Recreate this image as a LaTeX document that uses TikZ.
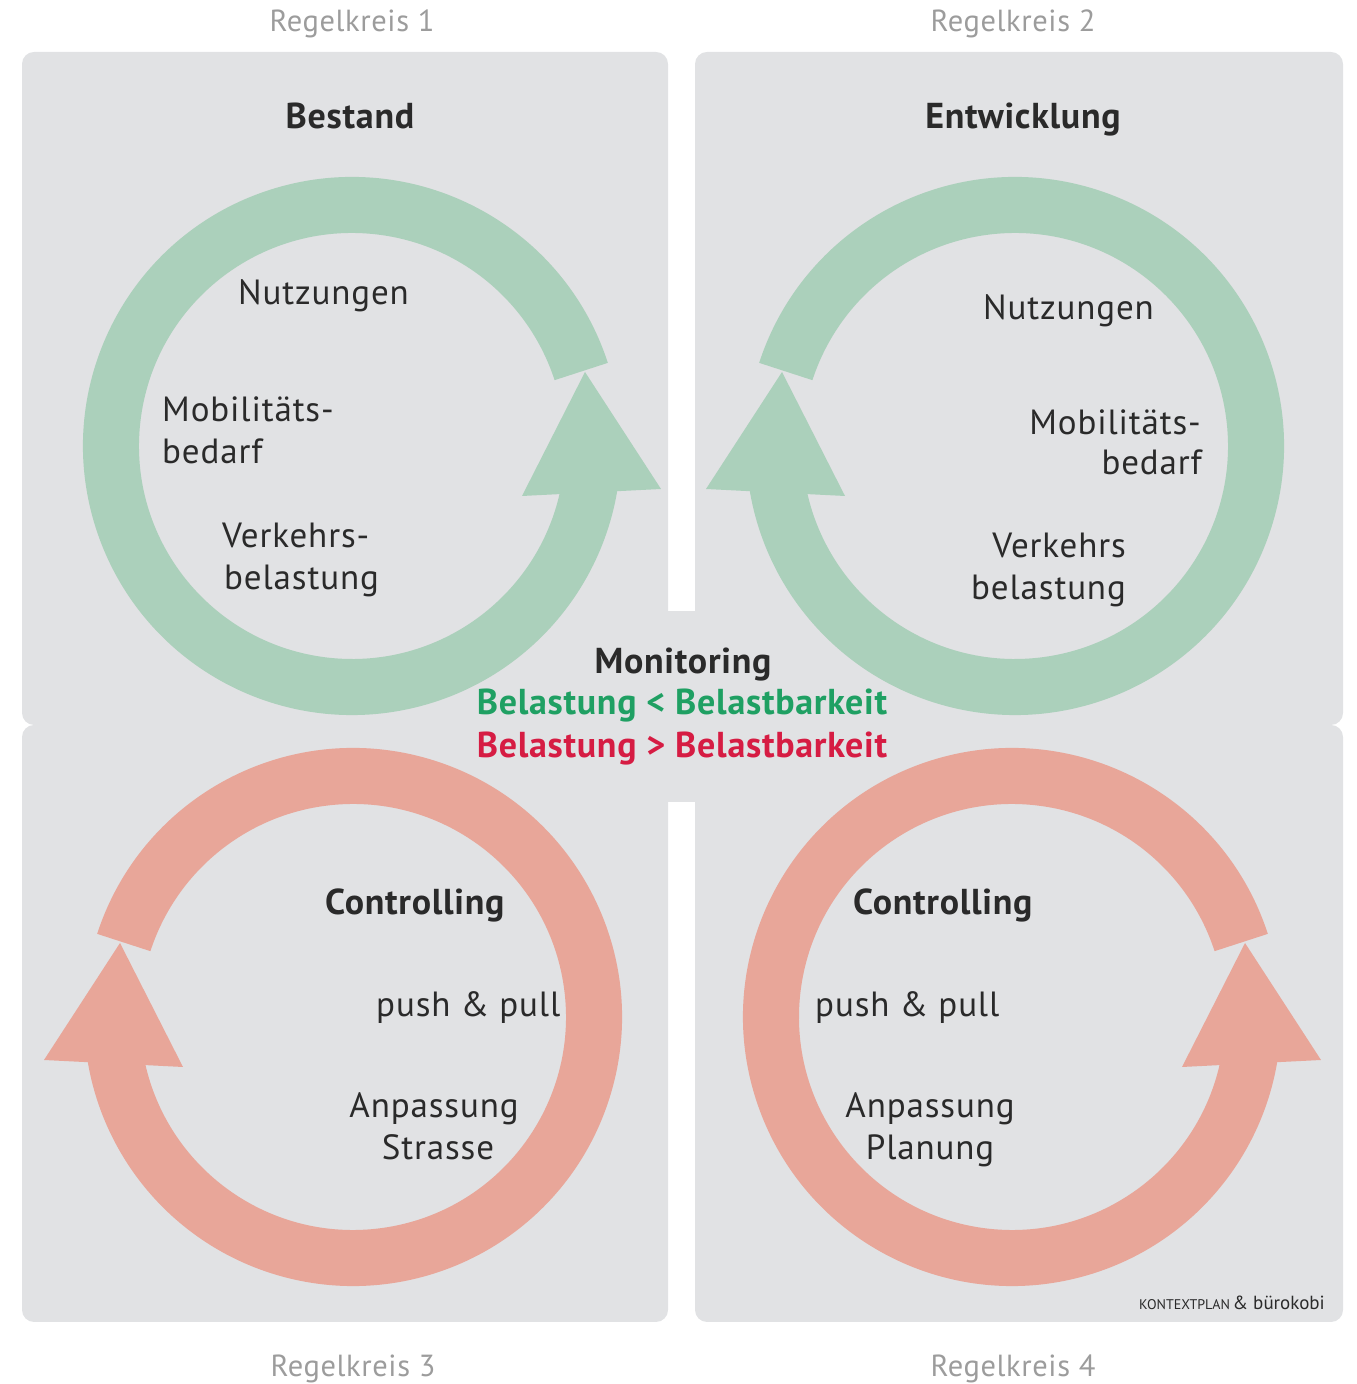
\documentclass[tikz,border=0pt]{standalone}
\usepackage{fontspec}
\setmainfont{PT Sans}
\definecolor{panel}{HTML}{E1E2E4}
\definecolor{ringg}{HTML}{ABD0BB}
\definecolor{ringr}{HTML}{E8A699}
\definecolor{okgreen}{HTML}{1FA063}
\definecolor{alarmred}{HTML}{D61C43}
\definecolor{txtd}{HTML}{2A2A2A}
\definecolor{rkgray}{HTML}{9C9C9C}
\usetikzlibrary{positioning}

\begin{document}
\begin{tikzpicture}[x=1pt, y=1pt,
  lbl/.style={font=\fontsize{35}{42}\selectfont\addfontfeatures{LetterSpace=2.5},
              text=txtd, inner sep=0pt},
  ttl/.style={font=\fontsize{36}{42}\selectfont\bfseries\addfontfeatures{LetterSpace=2},
              text=txtd, inner sep=0pt, anchor=base},
  rk/.style={font=\fontsize{30.5}{36}\selectfont\addfontfeatures{LetterSpace=2},
             text=rkgray, inner sep=0pt, anchor=base},
  mon/.style={font=\fontsize{36}{42}\selectfont\bfseries\addfontfeatures{LetterSpace=2},
              inner sep=0pt, anchor=base},
]
\useasboundingbox (0,0) rectangle (1357,1384);

% panels
\fill[panel, rounded corners=12pt] (22,659) rectangle (668,1332);
\fill[panel, rounded corners=12pt] (695,659) rectangle (1343,1332);
\fill[panel, rounded corners=12pt] (22,62) rectangle (668,659);
\fill[panel, rounded corners=12pt] (695,62) rectangle (1343,659);
\fill[panel] (667,582) rectangle (696,773);
\fill[panel] (650,630) rectangle (713,690);

% rings with arrow heads
\foreach \cx/\cy/\col/\sx in {352/938/ringg/1, 1015/938/ringg/-1,
                              353/367/ringr/-1, 1012/367/ringr/1} {
  \begin{scope}[shift={(\cx,\cy)}, xscale=\sx]
    \fill[\col] (18:269) arc (18:352:269) -- (352:213) arc (352:18:213) -- cycle;
    \fill[\col] (233,74) -- (170,-50) -- (309,-43) -- cycle;
  \end{scope}
}

% Regelkreis 1
\node[rk] (rk1) at (352,1352) {Regelkreis 1};
\node[ttl] (bestand) at (350,1255) {Bestand};
\node[lbl, anchor=base west] (nutz1) at (238,1079) {Nutzungen};
\node[lbl, anchor=base west] (mob1) at (162,962) {Mobilitäts-};
\node[lbl, anchor=base west] (bed1) at (162,920) {bedarf};
\node[lbl, anchor=base west] (verk1) at (222,836) {Verkehrs-};
\node[lbl, anchor=base west] (bel1) at (224,794) {belastung};

% Regelkreis 2
\node[rk] (rk2) at (1013,1352) {Regelkreis 2};
\node[ttl] (entw) at (1023,1255) {Entwicklung};
\node[lbl, anchor=base west] (nutz2) at (983,1064) {Nutzungen};
\node[lbl, anchor=base east] (mob2) at (1201,949) {Mobilitäts-};
\node[lbl, anchor=base east] (bed2) at (1202,909) {bedarf};
\node[lbl, anchor=base east] (verk2) at (1126,826) {Verkehrs};
\node[lbl, anchor=base east] (bel2) at (1126,784) {belastung};

% Monitoring
\node[mon, text=txtd] (monit) at (683,710) {Monitoring};
\node[mon, text=okgreen] (mgreen) at (682,669) {Belastung < Belastbarkeit};
\node[mon, text=alarmred] (mred) at (682,626) {Belastung > Belastbarkeit};

% Regelkreis 3
\node[ttl, anchor=base west] (contr3) at (325,469) {Controlling};
\node[lbl, anchor=base west] (push3) at (376,367) {push \& pull};
\node[lbl, anchor=base] (anp3) at (434,266) {Anpassung};
\node[lbl, anchor=base] (str3) at (438,224) {Strasse};
\node[rk] (rk3) at (353,7) {Regelkreis 3};

% Regelkreis 4
\node[ttl, anchor=base west] (contr4) at (853,469) {Controlling};
\node[lbl, anchor=base west] (push4) at (815,367) {push \& pull};
\node[lbl, anchor=base] (anp4) at (930,266) {Anpassung};
\node[lbl, anchor=base] (plan4) at (930,224) {Planung};
\node[rk] (rk4) at (1013,7) {Regelkreis 4};

\node[inner sep=0pt, anchor=base east, text=txtd] (credit) at (1325,74)
  {{\fontsize{14}{16}\selectfont KONTEXTPLAN} {\fontsize{19}{20}\selectfont \& bürokobi}};
\end{tikzpicture}
\end{document}
